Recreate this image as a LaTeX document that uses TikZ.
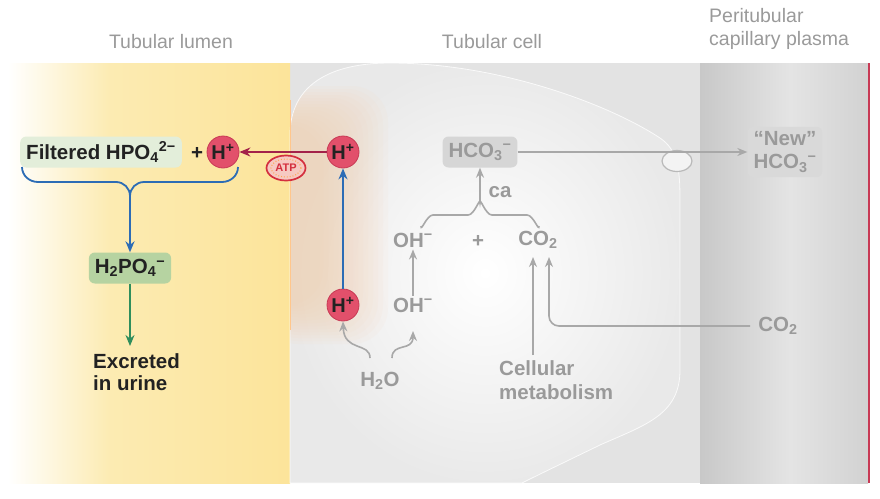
\documentclass[tikz,border=0pt]{standalone}
\usepackage{fontspec}
\setmainfont{Liberation Sans}
\usetikzlibrary{arrows.meta,shapes.geometric}
\definecolor{lumenY}{HTML}{FCEBB2}
\definecolor{lumenY2}{HTML}{FCE49A}
\definecolor{cellbg}{HTML}{E3E3E3}
\definecolor{cellfill}{HTML}{F3F3F3}
\definecolor{periL}{HTML}{C8C8C8}
\definecolor{periR}{HTML}{E4E4E4}
\definecolor{glow}{HTML}{F9D2B2}
\definecolor{hred}{HTML}{E2506B}
\definecolor{hredd}{HTML}{C83A55}
\definecolor{arrred}{HTML}{A3224A}
\definecolor{arrblue}{HTML}{2C6CB5}
\definecolor{arrgreen}{HTML}{2F8E5C}
\definecolor{txtgray}{HTML}{9A9A9A}
\definecolor{arrgray}{HTML}{A8A8A8}
\definecolor{boxpale}{HTML}{E3EEDA}
\definecolor{boxgreen}{HTML}{B6D3A1}
\definecolor{boxgray}{HTML}{D6D6D6}
\definecolor{boxgray2}{HTML}{D9D9D9}
\definecolor{txtdark}{HTML}{222222}
\definecolor{atpred}{HTML}{D42F3E}
\definecolor{atpfill}{HTML}{F6C9C2}
\begin{document}
\begin{tikzpicture}[x=1pt,y=-1pt,
  big/.style={font=\fontsize{20.5}{24}\selectfont\bfseries, inner sep=2pt},
  title/.style={font=\fontsize{19.5}{23}\selectfont, text=txtgray, inner sep=0pt},
  dark/.style={big, text=txtdark},
  graytxt/.style={big, text=txtgray},
  hplus/.style={circle, fill=hred, draw=hredd, line width=0.8pt, minimum size=32pt, inner sep=0pt, font=\fontsize{20}{23}\selectfont\bfseries, text=txtdark},
  chembox/.style={rounded corners=6pt, minimum height=31pt, inner xsep=6pt},
  garrow/.style={draw=arrgray, line width=1.6pt, -{Stealth[length=10pt,width=8pt]}},
  barrow/.style={draw=arrblue, line width=1.8pt, -{Stealth[length=11pt,width=9pt]}},
]
\useasboundingbox (0,0) rectangle (880,498);
% backgrounds
\fill[cellbg] (290,63) rectangle (700,483);
\shade[left color=white, right color=lumenY] (8,63) rectangle (110,483);
\shade[left color=lumenY, right color=lumenY2] (110,63) rectangle (290,483);
\shade[left color=periL, right color=periR] (700,63) rectangle (790,483);
\shade[left color=periR, right color=periR!92!black] (790,63) rectangle (868,483);
\draw[hredd, line width=1.2pt] (869,63) -- (869,483);
% cell
\def\cellpath{(290,483) -- (290,135) .. controls (290,85) and (330,63) .. (390,63) .. controls (500,63) and (610,105) .. (660,138) .. controls (678,150) and (680,170) .. (680,200) -- (680,370) .. controls (680,415) and (645,425) .. (600,445) .. controls (565,462) and (540,474) .. (522,483) -- cycle}
\shade[inner color=white, outer color=cellfill!96!black] \cellpath;
\begin{scope}
  \clip \cellpath;
  \foreach \i in {0,...,13}{
    \fill[glow, opacity=0.075, rounded corners=36pt] (262,{86+\i*3}) rectangle ({388-\i*5},{344-\i*3});
  }
\end{scope}
\draw[white, line width=0.8pt, opacity=0.8] \cellpath;
\draw[orange!45!white, line width=0.8pt] (290,100) -- (290,330);
% titles
\node[title] (t1) at (171,42) {Tubular lumen};
\node[title] (t2) at (492,42) {Tubular cell};
\node[title, anchor=west, align=left] (t3) at (709,29) {Peritubular\\capillary plasma};
% lumen side
\node[dark, chembox, fill=boxpale] (filt) at (101,152) {Filtered HPO\textsubscript{4}\textsuperscript{2−}};
\node[dark] (plus1) at (197,153) {+};
\node[hplus] (hl) at (223,152) {H\textsuperscript{+}};
\node[hplus] (hc) at (343,152) {H\textsuperscript{+}};
\node[hplus] (hc2) at (343,305) {H\textsuperscript{+}};
\node[dark, chembox, fill=boxgreen] (hpo) at (130,268) {H\textsubscript{2}PO\textsubscript{4}\textsuperscript{−}};
\node[dark, anchor=west, align=left, font=\fontsize{20.5}{22}\selectfont\bfseries] (excr) at (91,372) {Excreted\\in urine};
\coordinate (urine) at (130,346);
% ATP pump
\node[ellipse, draw=atpred, line width=1.7pt, fill=atpfill, minimum width=39pt, minimum height=25pt, inner sep=0pt] (atp) at (286,168) {};
\draw[orange!70!white, line width=1.1pt, dash pattern=on 0.9pt off 2pt] (atp.center) ellipse (15pt and 9pt);
\node[text=atpred, font=\fontsize{11}{11}\selectfont\bfseries] (atpt) at (286,168) {ATP};
\draw[arrred, line width=1.8pt, -{Stealth[length=11pt,width=9pt]}] (hc) -- (hl);
\draw[barrow] (hc2) -- (hc);
% blue brace
\coordinate (bl) at (22,167);
\coordinate (br) at (238,167);
\coordinate (btip) at (130,196);
\draw[arrblue, line width=1.8pt] (bl) to[out=-90,in=180] (38,182) -- (116,182) to[out=0,in=90] (btip) to[out=90,in=180] (144,182) -- (222,182) to[out=0,in=-90] (br);
\draw[barrow] (btip) -- (hpo);
\draw[draw=arrgreen, line width=1.8pt, -{Stealth[length=11pt,width=9pt]}] (hpo) -- (urine);
% cell chemistry
\node[graytxt] (h2o) at (380,381) {H\textsubscript{2}O};
\node[graytxt] (oh2) at (413,305) {OH\textsuperscript{−}};
\node[graytxt] (oh1) at (413,240) {OH\textsuperscript{−}};
\node[graytxt] (plus2) at (478,241) {+};
\node[graytxt] (co2) at (538,240) {CO\textsubscript{2}};
\node[graytxt, chembox, fill=boxgray] (hco3) at (480,152) {HCO\textsubscript{3}\textsuperscript{−}};
\node[graytxt] (ca) at (500,192) {ca};
\node[graytxt, chembox, fill=boxgray2, align=center, font=\fontsize{20.5}{23}\selectfont\bfseries, inner ysep=5pt] (new) at (785,152) {“New”\\HCO\textsubscript{3}\textsuperscript{−}};
\node[ellipse, draw=arrgray!80!white, line width=1.2pt, fill=cellfill, minimum width=30pt, minimum height=21pt, inner sep=0pt] (trans) at (677,161) {};
\node[graytxt, anchor=west, align=left, font=\fontsize{20.5}{24}\selectfont\bfseries] (met) at (497,380) {Cellular\\metabolism};
\node[graytxt] (co2r) at (778,326) {CO\textsubscript{2}};
% gray arrows
\coordinate (h2oL) at (370,358);
\coordinate (h2oR) at (392,358);
\draw[garrow] (h2oL) .. controls (370,342) and (344,352) .. (hc2.south);
\draw[garrow] (h2oR) .. controls (392,342) and (413,352) .. (oh2.north |- 0,331);
\draw[garrow] (oh2) -- (oh1);
\coordinate (gl) at (421,226);
\coordinate (gr) at (539,226);
\coordinate (gtip) at (480,203);
\draw[arrgray, line width=1.6pt] (gl) to[out=-90,in=180] (433,215) -- (468,215) to[out=0,in=90] (gtip) to[out=90,in=180] (492,215) -- (527,215) to[out=0,in=-90] (gr);
\draw[garrow] (gtip) -- (hco3);
\draw[garrow] (hco3) -- (new);
\coordinate (metTop) at (533,355);
\coordinate (co2L) at (533,257);
\coordinate (co2R) at (549,257);
\coordinate (co2rW) at (750,326);
\draw[garrow] (metTop) -- (co2L);
\draw[garrow, rounded corners=10pt] (co2rW) -- (549,326) -- (co2R);
\end{tikzpicture}
\end{document}
